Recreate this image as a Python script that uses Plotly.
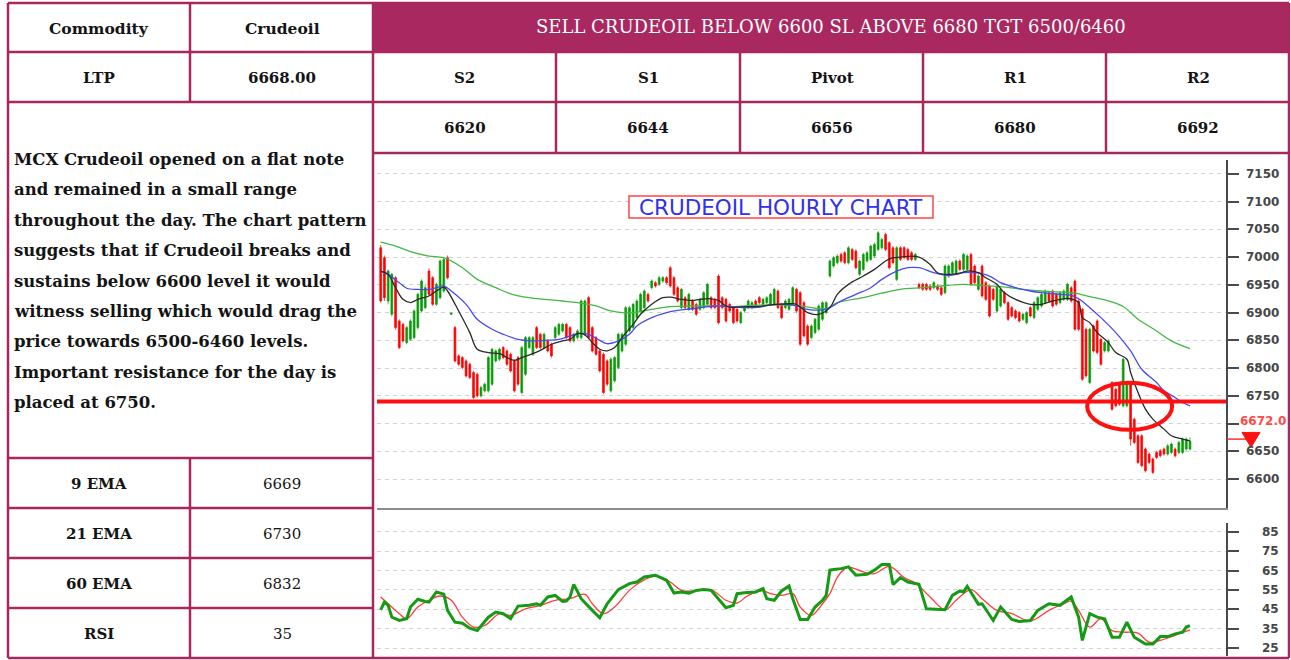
import plotly.graph_objects as go

W, H = 1291, 660
def X(px): return px / W
def Y(py): return 1 - py / H

# ---------------- data ----------------
commodity = "Crudeoil"
ltp = "6668.00"
headline = "SELL CRUDEOIL BELOW 6600 SL ABOVE 6680 TGT 6500/6460"
level_names = ["S2", "S1", "Pivot", "R1", "R2"]
level_values = [6620, 6644, 6656, 6680, 6692]
indicator_names = ["9 EMA", "21 EMA", "60 EMA", "RSI"]
indicator_values = [6669, 6730, 6832, 35]
comment_lines = [
    "MCX Crudeoil opened on a flat note",
    "and remained in a small range",
    "throughout the day. The chart pattern",
    "suggests that if Crudeoil breaks and",
    "sustains below 6600 level it would",
    "witness selling which would drag the",
    "price towards 6500-6460 levels.",
    "Important resistance for the day is",
    "placed at 6750.",
]
chart_title = "CRUDEOIL HOURLY CHART"
price_ticks = [6600, 6650, 6700, 6750, 6800, 6850, 6900, 6950, 7000, 7050, 7100, 7150]
price_tick_labels = [6600, 6650, 6750, 6800, 6850, 6900, 6950, 7000, 7050, 7100, 7150]
rsi_ticks = [25, 35, 45, 55, 65, 75, 85]
resistance_level = 6740
last_price = 6672.0

opens = [
    7017, 6999, 6921, 6897, 6963, 6885, 6879, 6846, 6852, 6855,
    6873, 6903, 6909, 6975, 6963, 6915, 6927, 6939, 6999, 6897,
    6873, 6822, 6819, 6813, 6807, 6792, 6789, 6750, 6759, 6759,
    6771, 6813, 6816, 6837, 6831, 6825, 6813, 6819, 6756, 6789,
    6837, 6825, 6873, 6861, 6837, 6849, 6843, 6855, 6861, 6867,
    6879, 6873, 6849, 6855, 6855, 6861, 6927, 6873, 6855, 6831,
    6825, 6813, 6759, 6777, 6801, 6831, 6843, 6867, 6873, 6891,
    6903, 6909, 6933, 6945, 6954, 6951, 6957, 6963, 6981, 6963,
    6945, 6909, 6927, 6906, 6921, 6915, 6906, 6909, 6915, 6927,
    6924, 6966, 6927, 6924, 6915, 6909, 6906, 6882, 6903, 6909,
    6909, 6921, 6927, 6915, 6918, 6915, 6915, 6939, 6915, 6909,
    6906, 6915, 6942,
    6936, 6918, 6876, 6855, 6864, 6870, 6888,
    6900, 6966, 6984, 6990, 7005, 7008, 6990, 7014, 7011, 6969,
    6978, 6993, 6996, 7002, 7014, 7017, 7041, 7026, 7017, 6960,
    7017, 7017, 7014, 7008, 6996, 6951, 6951, 6951, 6948, 6945,
    6948, 6945, 6936, 6966, 6972, 6972, 6993, 6978, 6978, 7005,
    6984, 6942, 6984, 6954, 6948, 6942, 6903, 6912, 6936, 6918,
    6909, 6903, 6900, 6888, 6882, 6909, 6891, 6906, 6912, 6918,
    6936, 6939, 6933, 6918, 6924, 6924, 6945, 6957, 6921, 6906,
    6870, 6774, 6876, 6885, 6852, 6831, 6831, 6774, 6762, 6771,
    6732, 6732, 6772, 6708, 6678, 6678, 6654, 6645, 6636, 6648,
    6651, 6654, 6645, 6648, 6654, 6648, 6648, 6654, 6654,
]
closes = [
    6921, 6927, 6975, 6969, 6873, 6837, 6849, 6873, 6885, 6903,
    6933, 6957, 6945, 6933, 6915, 6951, 6993, 6996, 6963, 6899,
    6813, 6807, 6801, 6786, 6783, 6747, 6750, 6765, 6771, 6819,
    6834, 6831, 6834, 6819, 6807, 6795, 6759, 6771, 6837, 6855,
    6855, 6855, 6837, 6837, 6861, 6831, 6822, 6873, 6879, 6879,
    6855, 6849, 6861, 6867, 6921, 6921, 6855, 6831, 6825, 6795,
    6756, 6771, 6816, 6819, 6861, 6861, 6909, 6909, 6915, 6921,
    6933, 6939, 6921, 6957, 6948, 6963, 6963, 6954, 6948, 6933,
    6921, 6942, 6909, 6933, 6906, 6897, 6924, 6936, 6951, 6909,
    6909, 6882, 6909, 6885, 6903, 6882, 6885, 6900, 6909, 6921,
    6918, 6912, 6918, 6924, 6927, 6933, 6942, 6909, 6891, 6921,
    6924, 6945, 6903,
    6843, 6858, 6843, 6876, 6888, 6912, 6918,
    6918, 6993, 6999, 7002, 6993, 6990, 7017, 6996, 6981, 6993,
    7005, 7008, 7020, 7023, 7044, 7032, 7014, 6981, 6990, 7017,
    6996, 6999, 6996, 6996, 7005, 6945, 6942, 6942, 6942, 6954,
    6942, 6933, 6984, 6984, 6990, 6993, 6978, 7005, 7002, 6951,
    6954, 6966, 6930, 6924, 6894, 6924, 6948, 6942, 6918, 6888,
    6894, 6891, 6885, 6897, 6900, 6894, 6918, 6927, 6933, 6939,
    6921, 6912, 6915, 6936, 6939, 6951, 6921, 6870, 6870, 6780,
    6786, 6870, 6831, 6828, 6807, 6846, 6849, 6726, 6732, 6735,
    6816, 6774, 6672, 6666, 6630, 6624, 6615, 6630, 6612, 6639,
    6642, 6645, 6660, 6663, 6642, 6666, 6672, 6672, 6668,
]
highs = [
    7022, 7003, 6978, 6972, 6966, 6888, 6882, 6876, 6888, 6906,
    6936, 6960, 6950, 6980, 6966, 6954, 6996, 6999, 7003, 6900,
    6876, 6825, 6822, 6816, 6810, 6795, 6792, 6768, 6774, 6822,
    6837, 6834, 6837, 6840, 6834, 6828, 6816, 6822, 6840, 6858,
    6858, 6858, 6876, 6864, 6864, 6852, 6846, 6876, 6882, 6882,
    6882, 6876, 6864, 6870, 6924, 6924, 6930, 6876, 6858, 6834,
    6828, 6816, 6819, 6822, 6864, 6864, 6912, 6912, 6918, 6924,
    6936, 6942, 6936, 6960, 6957, 6966, 6966, 6966, 6984, 6966,
    6948, 6945, 6930, 6936, 6924, 6918, 6927, 6939, 6954, 6930,
    6927, 6969, 6930, 6927, 6918, 6912, 6909, 6903, 6912, 6924,
    6921, 6924, 6930, 6927, 6930, 6936, 6945, 6942, 6918, 6924,
    6927, 6948, 6945,
    6939, 6921, 6879, 6879, 6891, 6915, 6921,
    6921, 6996, 7002, 7005, 7008, 7011, 7020, 7017, 7014, 6996,
    7008, 7011, 7023, 7026, 7047, 7035, 7044, 7029, 7020, 7020,
    7020, 7020, 7017, 7011, 7008, 6954, 6954, 6954, 6951, 6957,
    6951, 6948, 6987, 6987, 6993, 6996, 6996, 7008, 7005, 7008,
    6987, 6969, 6987, 6957, 6951, 6945, 6951, 6945, 6939, 6921,
    6912, 6906, 6903, 6900, 6903, 6912, 6921, 6930, 6936, 6942,
    6939, 6942, 6936, 6939, 6942, 6954, 6948, 6960, 6924, 6909,
    6873, 6873, 6879, 6888, 6855, 6849, 6852, 6777, 6765, 6774,
    6819, 6777, 6777, 6711, 6681, 6681, 6657, 6648, 6639, 6651,
    6654, 6657, 6663, 6666, 6657, 6669, 6675, 6675, 6675,
]
lows = [
    6918, 6921, 6915, 6893, 6869, 6834, 6846, 6843, 6849, 6852,
    6870, 6900, 6906, 6930, 6912, 6912, 6924, 6936, 6960, 6896,
    6810, 6804, 6798, 6783, 6780, 6744, 6747, 6747, 6756, 6756,
    6768, 6810, 6813, 6816, 6804, 6792, 6756, 6768, 6753, 6786,
    6834, 6822, 6834, 6834, 6834, 6828, 6819, 6852, 6858, 6864,
    6852, 6846, 6846, 6852, 6852, 6858, 6852, 6828, 6822, 6792,
    6753, 6768, 6756, 6774, 6798, 6828, 6840, 6864, 6870, 6888,
    6900, 6906, 6918, 6942, 6945, 6948, 6954, 6951, 6945, 6930,
    6918, 6906, 6906, 6903, 6903, 6894, 6903, 6906, 6912, 6906,
    6906, 6879, 6906, 6882, 6900, 6879, 6882, 6879, 6900, 6906,
    6906, 6909, 6915, 6912, 6915, 6912, 6912, 6906, 6888, 6906,
    6903, 6912, 6900,
    6840, 6855, 6840, 6852, 6861, 6867, 6885,
    6897, 6963, 6981, 6987, 6990, 6987, 6987, 6993, 6978, 6966,
    6975, 6990, 6993, 6999, 7011, 7014, 7011, 6978, 6987, 6957,
    6993, 6996, 6993, 6993, 6993, 6942, 6939, 6939, 6939, 6942,
    6939, 6930, 6933, 6963, 6969, 6969, 6975, 6975, 6975, 6948,
    6951, 6939, 6927, 6921, 6891, 6921, 6900, 6909, 6915, 6885,
    6891, 6888, 6882, 6885, 6879, 6891, 6888, 6903, 6909, 6915,
    6918, 6909, 6912, 6915, 6921, 6921, 6918, 6867, 6867, 6777,
    6783, 6771, 6828, 6825, 6804, 6828, 6828, 6723, 6729, 6732,
    6729, 6729, 6660, 6663, 6627, 6621, 6612, 6627, 6609, 6636,
    6639, 6642, 6642, 6645, 6639, 6645, 6645, 6651, 6651,
]

ema9_x = [0, 2, 4, 6, 8, 10, 13, 15, 17, 18, 21, 24, 26, 29, 32, 34, 36, 38, 41, 43,
          46, 49, 51, 53, 55, 57, 59, 61, 63, 65, 68, 70, 73, 76, 78, 81, 84, 86, 89, 91,
          93, 95, 96, 99, 102, 105, 107, 110, 112, 115, 118, 121, 123, 126, 130, 133, 136, 138, 140, 143,
          145, 148, 150, 153, 156, 158, 161, 163, 166, 168, 171, 175, 178, 181, 184, 186, 188, 189, 191, 193,
          196, 198, 201, 202, 204, 206, 208, 211, 213, 216, 218]
ema9_y = [6975, 6969, 6945, 6924, 6918, 6924, 6930, 6939, 6946, 6939, 6903, 6864, 6834, 6828, 6826, 6819, 6814, 6819, 6826, 6832,
          6843, 6849, 6852, 6862, 6860, 6846, 6834, 6831, 6837, 6855, 6879, 6897, 6915, 6927, 6928, 6924, 6922, 6924, 6925, 6922,
          6912, 6909, 6910, 6911, 6911, 6914, 6915, 6916, 6915, 6900, 6897, 6909, 6933, 6951, 6966, 6978, 6993, 6999, 7000, 7002,
          7000, 6987, 6972, 6969, 6971, 6975, 6972, 6963, 6951, 6936, 6924, 6915, 6915, 6921, 6925, 6925, 6918, 6891, 6882, 6864,
          6846, 6828, 6816, 6792, 6756, 6726, 6708, 6690, 6678, 6672, 6669]
ema21_x = [0, 2, 5, 7, 10, 13, 15, 17, 19, 23, 26, 30, 33, 37, 41, 44, 48, 51, 53, 56,
           59, 61, 64, 67, 69, 73, 77, 80, 84, 87, 91, 95, 98, 102, 105, 109, 112, 115, 119, 121,
           124, 128, 132, 135, 139, 142, 145, 149, 153, 157, 160, 164, 167, 171, 175, 178, 183, 186, 188, 191,
           194, 198, 202, 205, 209, 211, 214, 216, 218]
ema21_y = [6975, 6969, 6954, 6944, 6942, 6942, 6945, 6948, 6939, 6915, 6888, 6870, 6861, 6852, 6849, 6850, 6852, 6858, 6862, 6861,
           6850, 6844, 6849, 6861, 6876, 6891, 6900, 6904, 6907, 6910, 6912, 6911, 6909, 6910, 6914, 6915, 6912, 6906, 6905, 6909,
           6921, 6933, 6945, 6960, 6975, 6981, 6981, 6972, 6967, 6972, 6972, 6966, 6954, 6945, 6939, 6936, 6933, 6931, 6925, 6909,
           6891, 6864, 6831, 6798, 6774, 6759, 6747, 6738, 6732]
ema60_x = [0, 4, 8, 13, 17, 22, 26, 31, 35, 40, 44, 49, 53, 58, 62, 65, 68, 73, 78, 84,
           89, 95, 100, 105, 112, 116, 120, 123, 130, 135, 140, 146, 151, 157, 162, 167, 173, 178, 184, 187,
           191, 195, 200, 204, 209, 213, 218]
ema60_y = [7027, 7020, 7010, 7002, 6999, 6981, 6960, 6945, 6934, 6927, 6924, 6921, 6918, 6912, 6903, 6900, 6900, 6906, 6911, 6912,
           6912, 6911, 6913, 6914, 6913, 6909, 6907, 6918, 6927, 6935, 6942, 6945, 6948, 6951, 6949, 6947, 6942, 6939, 6937, 6935,
           6929, 6923, 6911, 6888, 6867, 6849, 6835]

rsi_x = [0, 1, 2, 3, 5, 7, 8, 10, 12, 13, 15, 17, 18, 20, 22, 24, 26, 29, 31, 33,
         35, 37, 40, 42, 43, 45, 47, 49, 50, 51, 52, 54, 57, 59, 61, 64, 67, 69, 71, 74,
         77, 79, 81, 83, 85, 87, 89, 91, 93, 95, 96, 98, 101, 103, 104, 106, 108, 110, 111, 113,
         115, 117, 119, 120, 121, 122, 124, 126, 128, 131, 133, 135, 137, 138, 140, 142, 145, 147, 152, 154,
         156, 157, 158, 161, 162, 165, 167, 170, 172, 175, 177, 180, 183, 186, 188, 189, 191, 193, 195, 197,
         199, 201, 203, 206, 208, 210, 212, 214, 216, 217, 218]
rsi_y = [44.8, 48.8, 47.1, 41.0, 39.3, 40.2, 46.2, 50.2, 49.1, 48.8, 54.0, 52.8, 44.5, 38.4, 37.9, 35.3, 34.1, 41.0, 43.6, 42.8,
         40.2, 46.7, 47.1, 47.9, 47.1, 51.4, 52.2, 49.1, 49.3, 51.4, 57.9, 50.5, 44.5, 40.7, 47.9, 55.2, 58.3, 59.1, 61.7, 62.6,
         60.0, 53.4, 54.0, 53.4, 54.8, 55.2, 54.8, 50.5, 45.9, 47.1, 53.1, 53.6, 54.0, 55.7, 50.5, 49.7, 54.5, 57.1, 50.5, 39.8,
         39.8, 46.2, 49.7, 52.2, 65.2, 65.5, 66.0, 66.9, 62.6, 63.1, 65.2, 68.1, 68.1, 57.8, 61.4, 59.1, 57.9, 45.3, 44.8, 52.2,
         54.5, 54.0, 56.9, 47.6, 47.9, 39.3, 46.2, 39.8, 38.8, 39.3, 44.5, 47.9, 47.1, 51.4, 41.0, 29.0, 42.8, 41.0, 40.2, 30.7,
         30.7, 38.4, 30.7, 27.2, 27.2, 31.0, 31.0, 32.4, 33.3, 35.9, 36.7]
sig_x = [0, 2, 5, 7, 10, 13, 16, 19, 22, 25, 28, 32, 35, 39, 43, 47, 51, 55, 57, 60,
         63, 67, 70, 74, 78, 81, 85, 89, 93, 96, 99, 103, 105, 108, 111, 113, 116, 119, 121, 123,
         125, 126, 130, 133, 137, 141, 144, 148, 152, 155, 159, 162, 166, 170, 175, 180, 184, 186, 188, 191,
         194, 197, 200, 204, 207, 210, 213, 215, 218]
sig_y = [51.4, 47.9, 42.8, 40.2, 46.2, 49.7, 51.9, 49.7, 41.0, 35.9, 36.7, 42.8, 41.9, 45.3, 47.1, 49.7, 50.5, 52.8, 47.9, 42.8,
         46.2, 54.8, 59.1, 62.1, 59.1, 54.8, 54.5, 55.2, 49.7, 48.3, 52.2, 54.5, 53.1, 52.2, 53.1, 46.2, 41.9, 47.9, 53.1, 61.5,
         66.0, 66.9, 64.3, 63.4, 67.2, 61.4, 58.6, 51.4, 44.8, 49.7, 55.2, 50.5, 44.5, 42.8, 39.0, 44.5, 47.9, 49.3, 44.5, 35.9,
         40.2, 34.1, 33.3, 32.8, 28.1, 29.0, 31.0, 32.4, 34.5]

assert len(opens) == len(closes) == len(highs) == len(lows)
candle_x = list(range(len(opens)))

# ---------------- styling ----------------
BORDER = "#A8285E"
HEAD_BG = "#AA2860"
RED = "#FF0000"
GREEN = "#0A990A"
SERIF = "DejaVu Serif"
SANS = "DejaVu Sans"
TXT = "#141414"

fig = go.Figure()
fig.add_trace(go.Candlestick(
    x=candle_x, open=opens, high=highs, low=lows, close=closes,
    increasing=dict(line=dict(color=GREEN, width=0.7), fillcolor=GREEN),
    decreasing=dict(line=dict(color=RED, width=0.7), fillcolor=RED),
    whiskerwidth=0, showlegend=False, hoverinfo="skip", xaxis="x", yaxis="y"))
fig.add_trace(go.Scatter(x=ema60_x, y=ema60_y, mode="lines", line=dict(color="#44B844", width=1.3, shape="spline"),
                         showlegend=False, hoverinfo="skip", xaxis="x", yaxis="y"))
fig.add_trace(go.Scatter(x=ema21_x, y=ema21_y, mode="lines", line=dict(color="#4848F5", width=1.3, shape="spline"),
                         showlegend=False, hoverinfo="skip", xaxis="x", yaxis="y"))
fig.add_trace(go.Scatter(x=ema9_x, y=ema9_y, mode="lines", line=dict(color="#2A2A2A", width=1.3, shape="spline"),
                         showlegend=False, hoverinfo="skip", xaxis="x", yaxis="y"))
fig.add_trace(go.Scatter(x=sig_x, y=sig_y, mode="lines", line=dict(color="#FF3B3B", width=1.3, shape="spline"),
                         showlegend=False, hoverinfo="skip", xaxis="x2", yaxis="y2"))
fig.add_trace(go.Scatter(x=rsi_x, y=rsi_y, mode="lines", line=dict(color="#159A15", width=3),
                         showlegend=False, hoverinfo="skip", xaxis="x2", yaxis="y2"))

xdom = [X(377), X(1226)]
xr = [-1.0, 227.7]
grid = dict(showgrid=True, gridcolor="#D2D2D2", griddash="4px,4px", gridwidth=1, zeroline=False)
fig.update_layout(
    width=W, height=H, margin=dict(l=0, r=0, t=0, b=0),
    paper_bgcolor="white", plot_bgcolor="white", showlegend=False,
    xaxis=dict(domain=xdom, range=xr, anchor="y", showgrid=False, zeroline=False, showticklabels=False,
               ticks="", showline=True, linecolor="#8C8C8C", linewidth=2, rangeslider=dict(visible=False)),
    yaxis=dict(domain=[Y(508), Y(160)], range=[6547.8, 7175.2], side="right", anchor="x",
               showline=True, linecolor="#4A4A4A", linewidth=2, ticks="outside", ticklen=11, tickwidth=2,
               tickcolor="#4A4A4A", tickvals=price_ticks, showticklabels=False, **grid),
    xaxis2=dict(domain=xdom, range=xr, anchor="y2", visible=False),
    yaxis2=dict(domain=[Y(656), Y(523)], range=[21.0, 89.5], side="right", anchor="x2",
                showline=True, linecolor="#4A4A4A", linewidth=2, ticks="outside", ticklen=11, tickwidth=2,
                tickcolor="#4A4A4A", tickvals=rsi_ticks, showticklabels=False, **grid),
)

shapes = []
ann = []

# chart overlays
shapes.append(dict(type="line", xref="x domain", yref="y", x0=0, x1=1, y0=resistance_level, y1=resistance_level,
                   line=dict(color="#FF1010", width=4), layer="above"))
shapes.append(dict(type="circle", xref="x", yref="y", x0=190.3, x1=213.2, y0=6688.8, y1=6773.5,
                   line=dict(color="#FF1010", width=4), layer="above"))
shapes.append(dict(type="line", xref="paper", yref="y", x0=X(1227), x1=X(1249), y0=last_price, y1=last_price,
                   line=dict(color="#FF3030", width=1.5)))
shapes.append(dict(type="path", xref="paper", yref="y", fillcolor="#FF1010", line=dict(color="#FF1010", width=1),
                   path=f"M {X(1242)},{last_price + 12} L {X(1260)},{last_price + 12} L {X(1251)},{last_price - 15} Z"))
ann.append(dict(x=X(1238), y=last_price, xref="paper", yref="y", yshift=18, xanchor="left", yanchor="middle",
                text=f"<b>{last_price:.1f}</b>", showarrow=False, font=dict(family=SANS, size=12, color="#FF4A4A")))

for t in price_tick_labels:
    ann.append(dict(x=X(1281), y=t, xref="paper", yref="y", xanchor="right", yanchor="middle", text=f"<b>{t}</b>",
                    showarrow=False, font=dict(family=SANS, size=12, color="#474747")))
for t in rsi_ticks:
    ann.append(dict(x=X(1281), y=t, xref="paper", yref="y2", xanchor="right", yanchor="middle", text=f"<b>{t}</b>",
                    showarrow=False, font=dict(family=SANS, size=12, color="#474747")))

# chart title box
shapes.append(dict(type="rect", xref="paper", yref="paper", x0=X(629), x1=X(933), y0=Y(218), y1=Y(196),
                   fillcolor="white", line=dict(color="#FF4545", width=1.5), layer="above"))
ann.append(dict(x=X(781), y=Y(207.5), xref="paper", yref="paper", xanchor="center", yanchor="middle",
                text=chart_title, showarrow=False, font=dict(family=SANS, size=21.5, color="#3030F0")))

# table
shapes.append(dict(type="rect", xref="paper", yref="paper", x0=X(373), x1=X(1289), y0=Y(52), y1=Y(3),
                    fillcolor=HEAD_BG, line=dict(width=0), layer="below"))

def hline(y, x0, x1):
    shapes.append(dict(type="line", xref="paper", yref="paper", x0=X(x0), x1=X(x1), y0=Y(y), y1=Y(y),
                       line=dict(color=BORDER, width=2.5), layer="above"))

def vline(x, y0, y1):
    shapes.append(dict(type="line", xref="paper", yref="paper", x0=X(x), x1=X(x), y0=Y(y0), y1=Y(y1),
                       line=dict(color=BORDER, width=2.5), layer="above"))

hline(3, 8, 1289); hline(658, 8, 1289); vline(8, 3, 658); vline(1289, 3, 658)
hline(52, 8, 1289); hline(102, 8, 1289); hline(153, 373, 1289)
for yy in [458, 508, 558, 608]:
    hline(yy, 8, 373)
vline(190, 3, 102); vline(190, 458, 658); vline(373, 3, 658)
for xx in [556, 740, 923, 1106]:
    vline(xx, 52, 153)

def text(px, py, s, size=15, bold=True, color=TXT, anchor="center"):
    ann.append(dict(x=X(px), y=Y(py), xref="paper", yref="paper", xanchor=anchor, yanchor="middle",
                    text=f"<b>{s}</b>" if bold else s, showarrow=False,
                    font=dict(family=SERIF, size=size, color=color)))

text(99, 28, "Commodity", size=15.5)
text(282, 28, commodity, size=15.5)
text(831, 27, headline, size=18, bold=False, color="white")
text(99, 78, "LTP")
text(282, 78, ltp)
col_centers = [465, 648, 832, 1015, 1198]
for cx, name, val in zip(col_centers, level_names, level_values):
    text(cx, 78, name)
    text(cx, 128, str(val))
for i, line in enumerate(comment_lines):
    text(12, 159.5 + i * 30.4, line, size=16.5, anchor="left")
for i, (name, val) in enumerate(zip(indicator_names, indicator_values)):
    cy = 484 + i * 50
    text(99, cy, name)
    text(282, cy, str(val), bold=False)

fig.update_layout(shapes=shapes, annotations=ann)
fig.write_html("out.html", config={"displayModeBar": False},
               post_script="document.body.style.margin='0px';")
